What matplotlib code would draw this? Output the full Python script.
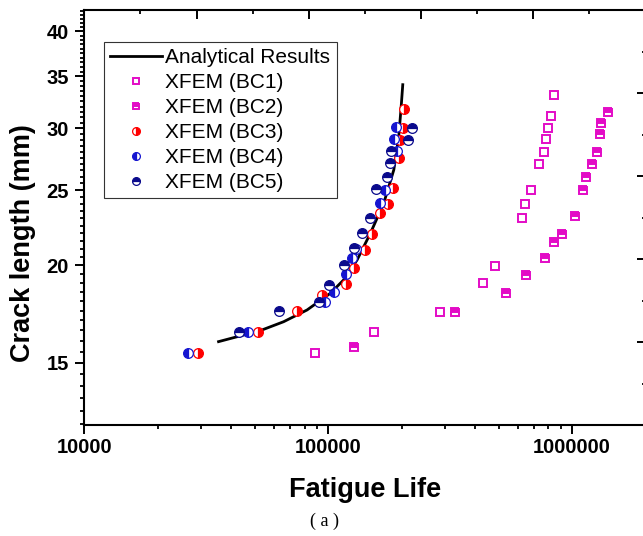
import numpy as np
import matplotlib
matplotlib.use("Agg")
import matplotlib.pyplot as plt
from matplotlib.ticker import FixedLocator, LogLocator, NullFormatter, FuncFormatter

plt.rcParams['font.family'] = ['Liberation Sans', 'DejaVu Sans']

# ---------------- data ----------------
analytical_life = [35520, 52680, 65660, 81940, 102100, 115700, 131400, 149000,
                   169000, 185800, 194700, 199200, 202200]
analytical_crack = [15.96, 16.49, 16.93, 17.53, 18.42, 19.16, 20.33, 22.0,
                    24.05, 26.54, 29.3, 32.02, 34.15]

bc1_life = [88030, 154800, 286900, 430800, 484200, 625200, 643200, 680700,
            734300, 769800, 784400, 796400, 819300, 846000]
bc1_crack = [15.42, 16.41, 17.44, 18.97, 19.97, 23.0, 23.97, 24.99,
             27.02, 28.02, 29.04, 30.06, 31.09, 33.08]

bc2_life = [128100, 331900, 533900, 645000, 771900, 842700, 908900, 1028000,
            1109000, 1140000, 1207000, 1262000, 1298000, 1314000, 1409000]
bc2_crack = [15.72, 17.44, 18.42, 19.44, 20.43, 21.42, 21.94, 23.16,
             24.99, 26.0, 27.02, 28.0, 29.53, 30.51, 31.51]

bc3_life = [29240, 51550, 74730, 94410, 118800, 127300, 142100, 151400,
            162700, 175500, 184000, 194700, 197900, 203000, 204100]
bc3_crack = [15.42, 16.44, 17.48, 18.33, 18.93, 19.87, 20.94, 21.96,
             23.34, 23.97, 25.18, 27.48, 28.95, 30.04, 31.78]

bc4_life = [26600, 46900, 96740, 105300, 118800, 125400, 130600, 163800,
            170600, 191800, 185800, 188800]
bc4_crack = [15.42, 16.44, 17.97, 18.47, 19.49, 20.47, 20.98, 24.05,
             25.01, 28.08, 29.07, 30.09]

bc5_life = [42920, 62640, 92030, 100500, 116500, 127300, 137800, 149000,
            157700, 174500, 180000, 180500, 212000, 221000]
bc5_crack = [16.44, 17.48, 17.97, 18.88, 20.03, 21.05, 22.0, 23.04,
             25.06, 26.02, 27.07, 28.08, 29.01, 30.04]

labels = ["Analytical Results", "XFEM (BC1)", "XFEM (BC2)", "XFEM (BC3)",
          "XFEM (BC4)", "XFEM (BC5)"]
x_major_ticks = [10000, 100000, 1000000]
y_major_ticks = [15, 20, 25, 30, 35, 40]

# ---------------- figure ----------------
W, H = 643, 536
fig = plt.figure(figsize=(W / 100, H / 100), dpi=100)
left, right, bottom, top = 84.3, 645.5, 425, 10
pos = [left / W, 1 - bottom / H, (right - left) / W, (bottom - top) / H]
ax = fig.add_axes(pos)

magenta = '#E30CC6'
red = '#FF0000'
blue = '#1515D0'
navy = '#0A0A8C'

ax.plot(analytical_life, analytical_crack, color='black', lw=2.0, zorder=2,
        label=labels[0])
ax.plot(bc1_life, bc1_crack, ls='none', marker='s', ms=6.0, mew=1.4,
        mec=magenta, mfc='white', zorder=3, label=labels[1])
ax.plot(bc2_life, bc2_crack, ls='none', marker='s', ms=6.0, mew=1.4,
        mec=magenta, mfc=magenta, fillstyle='top', markerfacecoloralt='white',
        zorder=3, label=labels[2])
ax.plot(bc3_life, bc3_crack, ls='none', marker='o', ms=7, mew=0.9,
        mec=red, mfc=red, fillstyle='right', markerfacecoloralt='white',
        zorder=3, label=labels[3])
ax.plot(bc4_life, bc4_crack, ls='none', marker='o', ms=7, mew=0.9,
        mec=blue, mfc=blue, fillstyle='left', markerfacecoloralt='white',
        zorder=3, label=labels[4])
ax.plot(bc5_life, bc5_crack, ls='none', marker='o', ms=7, mew=0.9,
        mec=navy, mfc=navy, fillstyle='top', markerfacecoloralt='white',
        zorder=3, label=labels[5])

ax.set_xscale('log')
ax.set_yscale('log')
ax.set_xlim(1e4, 2.0e6)
ax.set_ylim(12.47, 42.6)

ax.xaxis.set_major_locator(FixedLocator(x_major_ticks))
ax.xaxis.set_minor_locator(LogLocator(base=10, subs=np.arange(2, 10)))
ax.xaxis.set_major_formatter(FuncFormatter(lambda v, p: "%d" % round(v)))
ax.xaxis.set_minor_formatter(NullFormatter())

ax.yaxis.set_major_locator(FixedLocator(y_major_ticks))
ymin_ticks = [v for v in np.arange(12.5, 42.6, 0.5) if abs(v % 5) > 1e-6]
ax.yaxis.set_minor_locator(FixedLocator(ymin_ticks))
ax.yaxis.set_major_formatter(FuncFormatter(lambda v, p: "%d" % round(v)))
ax.yaxis.set_minor_formatter(NullFormatter())

for s in ax.spines.values():
    s.set_linewidth(1.5)
ax.tick_params(which='major', direction='out', length=6.7, width=1.4,
               labelsize=14.5, top=False, right=False)
ax.tick_params(which='minor', direction='out', length=3.2, width=1.3,
               top=False, right=False)
ax.tick_params(axis='x', which='major', pad=2.5)
ax.tick_params(axis='y', which='major', pad=4.5)
for t in ax.get_xticklabels() + ax.get_yticklabels():
    t.set_fontweight('bold')

# decorative linear opposite axes (top / right)
ax2 = fig.add_axes(pos, frameon=False)
ax2.set_xlim(0, 5)
ax2.set_ylim(0, 5)
ax2.patch.set_visible(False)
ax2.xaxis.tick_top()
ax2.yaxis.tick_right()
ax2.set_xticks([1, 2, 3, 4])
ax2.set_yticks([1, 2, 3, 4])
ax2.set_xticks([0.5, 1.5, 2.5, 3.5, 4.5], minor=True)
ax2.set_yticks([0.5, 1.5, 2.5, 3.5, 4.5], minor=True)
ax2.tick_params(which='major', direction='in', length=6.7, width=1.4,
                labeltop=False, labelright=False, labelbottom=False, labelleft=False)
ax2.tick_params(which='minor', direction='in', length=3.2, width=1.3)

# legend
leg = ax.legend(loc='upper left', bbox_to_anchor=(104 / W, 1 - 41.7 / H),
                bbox_transform=fig.transFigure, borderaxespad=0,
                fontsize=15, frameon=True, fancybox=False, edgecolor='#333333',
                framealpha=1, handlelength=2.48, handletextpad=0.16,
                borderpad=0.3, labelspacing=0.29, markerscale=0.8)
leg.get_frame().set_linewidth(0.8)

# labels
fig.text(365 / W, 1 - 497 / H, "Fatigue Life", ha='center', va='baseline',
         fontsize=19.5, fontweight='bold')
fig.text(23 / W, 1 - 243 / H, "Crack length (mm)", ha='center', va='center',
         rotation=90, fontsize=19.5, fontweight='bold')
fig.text(325 / W, 1 - 521 / H, "( a )", ha='center', va='center', fontsize=13,
         family=['Liberation Serif', 'DejaVu Serif'])

fig.savefig("out.png", dpi=100)
